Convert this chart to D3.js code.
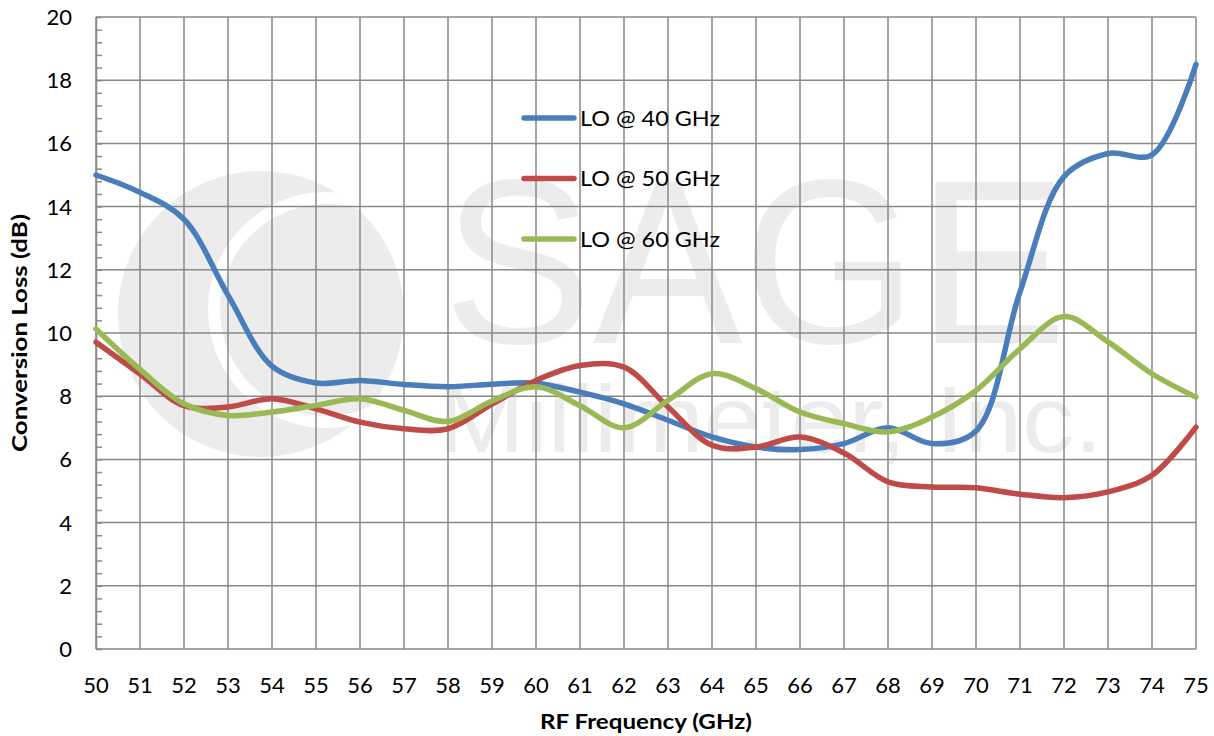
<html>
<head>
<meta charset="utf-8">
<title>Conversion Loss</title>
<style>
  body { margin: 0; background: #fff; }
  text { font-family: Lato, "Noto Sans", sans-serif; }
</style>
</head>
<body>
<script src="https://d3js.org/d3.v7.min.js"></script>
<script>
// RF frequency (GHz)
var freq = [50,51,52,53,54,55,56,57,58,59,60,61,62,63,64,65,66,67,68,69,70,71,72,73,74,75];
// conversion loss (dB) for each LO
var lo40 = [15.0,14.45,13.6,11.2,8.95,8.42,8.5,8.37,8.3,8.38,8.41,8.13,7.76,7.24,6.71,6.39,6.31,6.5,7.0,6.5,6.9,11.3,14.95,15.68,15.64,18.5];
var lo50 = [9.71,8.7,7.7,7.66,7.92,7.6,7.18,6.97,6.97,7.75,8.5,8.97,8.92,7.66,6.45,6.39,6.71,6.2,5.29,5.13,5.1,4.9,4.79,4.97,5.5,7.02];
var lo60 = [10.13,8.85,7.76,7.39,7.5,7.71,7.92,7.55,7.2,7.85,8.3,7.7,7.0,7.87,8.71,8.24,7.5,7.13,6.87,7.34,8.18,9.5,10.52,9.72,8.71,7.97];
var seriesNames = ["LO @ 40 GHz","LO @ 50 GHz","LO @ 60 GHz"];
var seriesColors = ["#4a7ebb","#be4b48","#98b954"];
var yTicks = [0,2,4,6,8,10,12,14,16,18,20];

var w = 1214, h = 736;
var padL = 96, padR = 1196, padT = 17, padB = 649;

var svg = d3.select("body").append("svg")
            .attr("width", w)
            .attr("height", h);

var x = d3.scaleLinear().domain([50,75]).range([padL,padR]);
var y = d3.scaleLinear().domain([0,20]).range([padB,padT]);

// watermark (logo + company name)
var wm = svg.append("g").attr("fill","#ececec");
wm.append("circle").attr("cx",261).attr("cy",314).attr("r",143);
wm.append("circle").attr("cx",326).attr("cy",310).attr("r",112)
  .attr("fill","none").attr("stroke","#fff").attr("stroke-width",12);
wm.append("text").attr("x",443).attr("y",343)
  .style("font-family","'Liberation Sans', Arial")
  .style("font-size","233px")
  .attr("textLength",624).attr("lengthAdjust","spacingAndGlyphs")
  .text("SAGE");
wm.append("text").attr("x",438).attr("y",452)
  .style("font-family","'Liberation Sans', Arial")
  .style("font-size","95px")
  .attr("textLength",665).attr("lengthAdjust","spacingAndGlyphs")
  .text("Millimeter, Inc.");

// grid
var grid = svg.append("g").attr("stroke","#898989").attr("stroke-width",1.5);
grid.selectAll("line.v").data(freq).enter().append("line")
    .attr("x1",function(d){return x(d);}).attr("x2",function(d){return x(d);})
    .attr("y1",padT).attr("y2",padB);
grid.selectAll("line.h").data(yTicks).enter().append("line")
    .attr("x1",padL).attr("x2",padR)
    .attr("y1",function(d){return y(d);}).attr("y2",function(d){return y(d);});

// y axis with minor ticks inside
var yAxis = d3.axisRight(y).tickValues(d3.range(0,20.01,0.4)).tickSize(6).tickSizeOuter(0).tickFormat("");
var ya = svg.append("g").attr("transform","translate(" + padL + ",0)").call(yAxis);
ya.selectAll("path,line").attr("stroke","#898989").attr("stroke-width",1.5);

svg.append("g").selectAll("text").data(yTicks).enter().append("text")
   .attr("x",72).attr("y",function(d){return y(d);})
   .attr("text-anchor","end").attr("dy","0.36em")
   .style("font-size","22px").text(function(d){return d;});

svg.append("g").selectAll("text").data(freq).enter().append("text")
   .attr("x",function(d){return x(d);}).attr("y",693)
   .attr("text-anchor","middle")
   .style("font-size","22px").text(function(d){return d;});

// series
var line = d3.line().curve(d3.curveCatmullRom)
             .x(function(d){return x(d[0]);})
             .y(function(d){return y(d[1]);});
[lo40,lo50,lo60].forEach(function(s,i){
  svg.append("path")
     .datum(freq.map(function(f,j){return [f,s[j]];}))
     .attr("fill","none")
     .attr("stroke",seriesColors[i])
     .attr("stroke-width",5.5)
     .attr("stroke-linecap","round")
     .attr("stroke-linejoin","round")
     .attr("d",line);
});

// legend
var lg = svg.append("g").selectAll("g").data(seriesNames).enter().append("g")
            .attr("transform",function(d,i){return "translate(524," + (118 + i*60.5) + ")";});
lg.append("line").attr("x1",0).attr("x2",50)
  .attr("stroke",function(d,i){return seriesColors[i];})
  .attr("stroke-width",5.5).attr("stroke-linecap","round");
lg.append("text").attr("x",56).attr("dy","0.36em")
  .style("font-size","22px")
  .attr("textLength",140).attr("lengthAdjust","spacingAndGlyphs")
  .text(function(d){return d;});

// axis titles
svg.append("text")
   .attr("transform","translate(27,333) rotate(-90)")
   .attr("text-anchor","middle")
   .style("font-size","21px").style("font-weight","bold")
   .attr("textLength",238).attr("lengthAdjust","spacingAndGlyphs")
   .text("Conversion Loss (dB)");
svg.append("text")
   .attr("x",646).attr("y",729)
   .attr("text-anchor","middle")
   .style("font-size","21px").style("font-weight","bold")
   .attr("textLength",212).attr("lengthAdjust","spacingAndGlyphs")
   .text("RF Frequency (GHz)");
</script>
</body>
</html>
